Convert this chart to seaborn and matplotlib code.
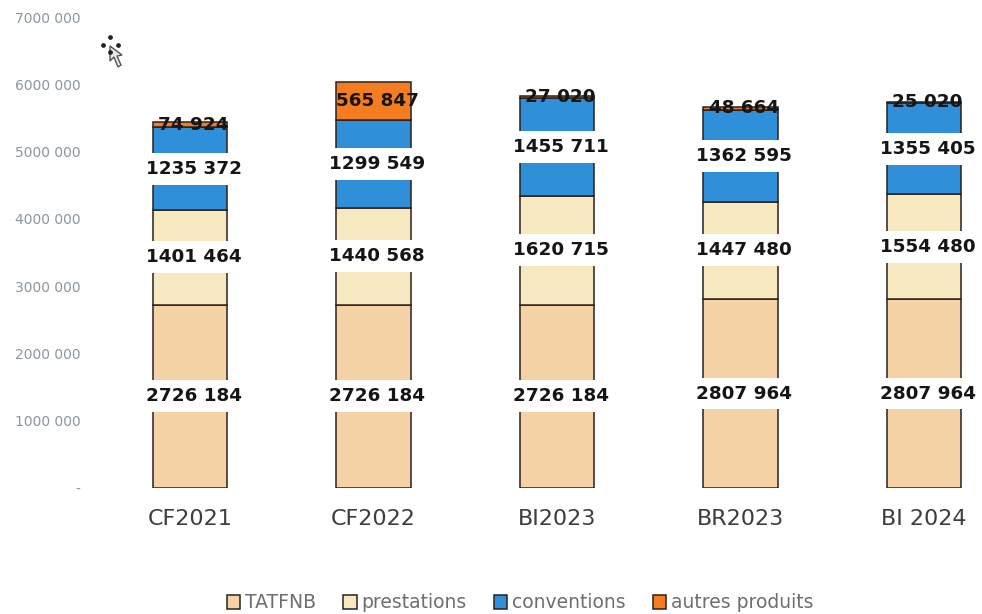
import matplotlib
matplotlib.use("Agg")
import matplotlib.pyplot as plt
from matplotlib.lines import Line2D
from matplotlib.patches import Polygon
import seaborn as sns
import pandas as pd
import numpy as np

categories = ["CF2021", "CF2022", "BI2023", "BR2023", "BI 2024"]
tatfnb = [2726184, 2726184, 2726184, 2807964, 2807964]
prestations = [1401464, 1440568, 1620715, 1447480, 1554480]
conventions = [1235372, 1299549, 1455711, 1362595, 1355405]
autres = [74924, 565847, 27020, 48664, 25020]
tatfnb_labels = ["2726 184", "2726 184", "2726 184", "2807 964", "2807 964"]
prestations_labels = ["1401 464", "1440 568", "1620 715", "1447 480", "1554 480"]
conventions_labels = ["1235 372", "1299 549", "1455 711", "1362 595", "1355 405"]
autres_labels = ["74 924", "565 847", "27 020", "48 664", "25 020"]
series_names = ["TATFNB", "prestations", "conventions", "autres produits"]
series_colors = ["#f4d2a6", "#f6e9bf", "#2f8fd8", "#f57c20"]
y_ticks = [1000000, 2000000, 3000000, 4000000, 5000000, 6000000, 7000000]
y_tick_labels = ["1000 000", "2000 000", "3000 000", "4000 000", "5000 000", "6000 000", "7000 000"]

W, H = 982, 614
sns.set_theme(style="white")
plt.rcParams["font.family"] = ["DejaVu Sans"]
fig = plt.figure(figsize=(W / 100, H / 100), dpi=100, facecolor="white")
ax = fig.add_axes([97 / W, 1 - 488 / H, (W - 97) / W, (488 - 17) / H])

series = [tatfnb, prestations, conventions, autres]
texts = [tatfnb_labels, prestations_labels, conventions_labels, autres_labels]
bottom = np.zeros(len(categories))
for name, vals, labs, col in zip(series_names, series, texts, series_colors):
    df = pd.DataFrame({"cat": categories, "val": vals})
    sns.barplot(data=df, x="cat", y="val", bottom=bottom, color=col, saturation=1,
                width=0.405, edgecolor="#2b211c", linewidth=1.1, label=name, ax=ax, legend=False)
    mids = bottom + np.array(vals) / 2
    boxed = name != "autres produits"
    for i, (m, s) in enumerate(zip(mids, labs)):
        ax.text(i + 0.02, m, s, ha="center", va="center", fontsize=13.2, fontweight="bold",
                color="#151515", zorder=5,
                bbox=dict(facecolor="white", edgecolor="none", pad=5) if boxed else None)
    bottom = bottom + np.array(vals)

ax.set_xlim((97 - 190) / 183.5, (W - 190) / 183.5)
ax.set_ylim(0, 7000000)
ax.set_yticks([0] + y_ticks)
ax.set_yticklabels(["-"] + y_tick_labels, fontsize=10, color="#8b969f")
ax.tick_params(axis="y", length=0, pad=12)
ax.tick_params(axis="x", length=0, pad=15, labelsize=16, labelcolor="#3d3d3d")
ax.set_xlabel("")
ax.set_ylabel("")
sns.despine(ax=ax, left=True, bottom=True, top=True, right=True)

handles, labels = ax.get_legend_handles_labels()
fig.legend(handles, labels, loc="center", bbox_to_anchor=(520 / W, 1 - 603 / H), ncol=4, frameon=False,
           fontsize=13.5, labelcolor="#6e6e6e", handlelength=0.72, handleheight=0.72,
           handletextpad=0.25, columnspacing=1.45)

# mouse cursor captured in the screenshot
def fx(x): return x / W
def fy(y): return 1 - y / H
fig.add_artist(Line2D([fx(x) for x in (110, 103, 118, 110)], [fy(y) for y in (37, 45, 45, 52)],
                      linestyle="none", marker="o", markersize=2.4, color="#222222"))
pts = [(110, 46), (110, 61), (114, 57), (118, 67), (121, 65), (117, 56), (122, 55)]
fig.add_artist(Polygon([(fx(x), fy(y)) for x, y in pts], closed=True, facecolor="#e8e8e8",
                       edgecolor="#555555", linewidth=1, transform=fig.transFigure))

fig.savefig("out.png", dpi=100)
